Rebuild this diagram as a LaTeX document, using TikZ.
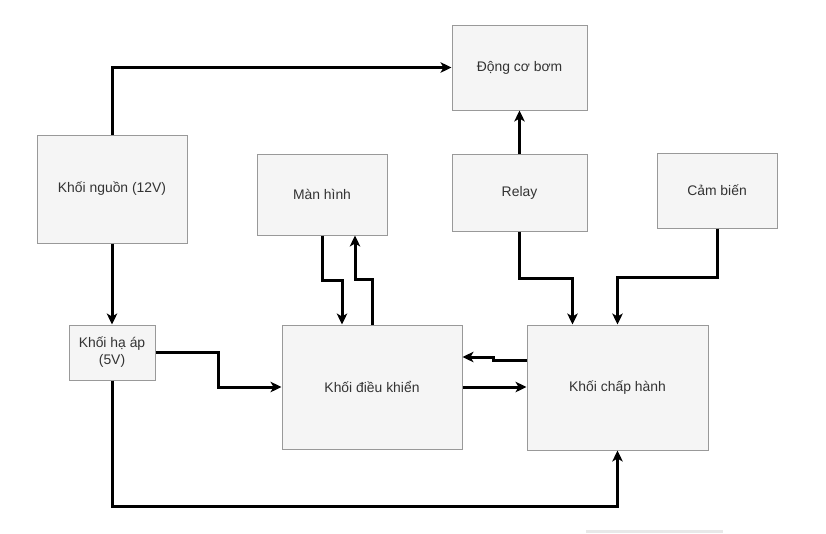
\documentclass[tikz,border=0pt]{standalone}
\usepackage{fontspec}
\setmainfont{Liberation Sans}
\usetikzlibrary{arrows.meta,calc}
\definecolor{boxfill}{HTML}{F5F5F5}
\definecolor{boxline}{HTML}{999999}
\definecolor{txt}{HTML}{333333}
\begin{document}
\begin{tikzpicture}[x=1pt,y=-1pt,
  box/.style={draw=boxline,fill=boxfill,line width=1pt,inner sep=0pt,align=center,
    text=txt,font=\fontsize{13.9}{17}\selectfont},
  arr/.style={draw=black,line width=3pt,-{Stealth[length=11pt,width=10.5pt,inset=3pt]}}]
\useasboundingbox (0,0) rectangle (826,533);
\fill[fill=black!9] (586,530) rectangle (723,533);

\node[box,minimum width=135pt,minimum height=85pt] (dong) at (519.5,67.5) {Động cơ bơm};
\node[box,minimum width=150pt,minimum height=108pt] (nguon) at (112,189) {Khối nguồn (12V)};
\node[box,minimum width=86pt,minimum height=55pt] (haap) at (112,352.5) {Khối hạ áp\\(5V)};
\node[box,minimum width=130pt,minimum height=81pt] (man) at (322,194.5) {Màn hình};
\node[box,minimum width=135pt,minimum height=77pt] (relay) at (519.5,192.5) {Relay};
\node[box,minimum width=120pt,minimum height=75pt] (camb) at (717,190.5) {Cảm biến};
\node[box,minimum width=180pt,minimum height=124pt] (dk) at (372,387) {Khối điều khiển};
\node[box,minimum width=181pt,minimum height=125pt] (ch) at (617.5,387.5) {Khối chấp hành};

\draw[arr] (nguon.north) |- (dong.west);
\draw[arr] (nguon.south) -- (haap.north);
\draw[arr] (haap.east) -- ++(63,0) |- (dk.west);
\draw[arr] (haap.south) -- ++(0,126) -| (ch.south);
\draw[arr] (man.south) -- ++(0,45) -| ([xshift=-30pt]dk.north);
\draw[arr] (dk.north) -- ++(0,-45) -| ([xshift=33pt]man.south);
\draw[arr] (relay.north) -- (dong.south);
\draw[arr] (relay.south) -- ++(0,47) -| ([xshift=-45pt]ch.north);
\draw[arr] (camb.south) -- ++(0,49) -| (ch.north);
\draw[arr] ([yshift=27.5pt]ch.west) -- ++(-33,0) |- ([yshift=30pt]dk.east);
\draw[arr] (dk.east) -- (dk.east -| ch.west);
\end{tikzpicture}
\end{document}
